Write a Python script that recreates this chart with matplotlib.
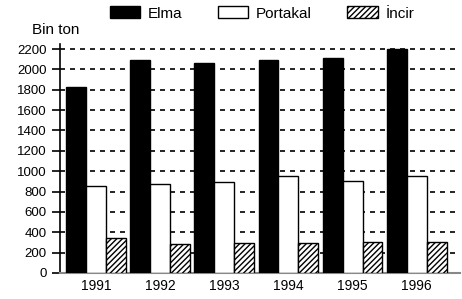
import matplotlib.pyplot as plt
import numpy as np

# Data
years = ['1991', '1992', '1993', '1994', '1995', '1996']
elma = [1830, 2090, 2060, 2090, 2110, 2200]
portakal = [850, 870, 890, 950, 900, 950]
incir = [340, 280, 290, 295, 300, 300]

plt.rcParams['font.family'] = ['Liberation Sans', 'DejaVu Sans']
plt.rcParams['hatch.linewidth'] = 1.0

fig = plt.figure(figsize=(4.62, 2.99), dpi=100)
ax = fig.add_axes([0.13, 0.087, 0.865, 0.766])

x = np.arange(len(years))
w = 0.31
ax.bar(x - w, elma, w, color='black', edgecolor='black', label='Elma', zorder=3)
ax.bar(x, portakal, w, color='white', edgecolor='black', linewidth=1, label='Portakal', zorder=3)
ax.bar(x + w, incir, w, color='white', edgecolor='black', linewidth=1, hatch='//////',
       label='İncir', zorder=3)

ax.set_xlim(-0.56, 5.67)
ax.set_ylim(0, 2250)
ax.set_yticks(range(0, 2201, 200))
ax.set_xticks(x)
ax.set_xticklabels(years, fontsize=10)
ax.tick_params(axis='x', length=0, pad=4)
ax.tick_params(axis='y', labelsize=9.5, length=6, width=1.2, direction='out')

for y in range(200, 2201, 200):
    ax.axhline(y, color='black', linestyle=(0, (3, 3)), linewidth=1.2, zorder=1)

ax.spines['top'].set_visible(False)
ax.spines['right'].set_visible(False)
ax.spines['left'].set_linewidth(1.2)
ax.spines['bottom'].set_color('#888888')
ax.spines['bottom'].set_linewidth(1.5)

fig.text(0.07, 0.885, 'Bin ton', fontsize=11)
fig.legend(loc='center', bbox_to_anchor=(0.567, 0.955), ncol=3, frameon=False,
           fontsize=11, handlelength=2.0, handleheight=0.8, columnspacing=2.3,
           handletextpad=0.5)

plt.savefig('out.png', dpi=100)
